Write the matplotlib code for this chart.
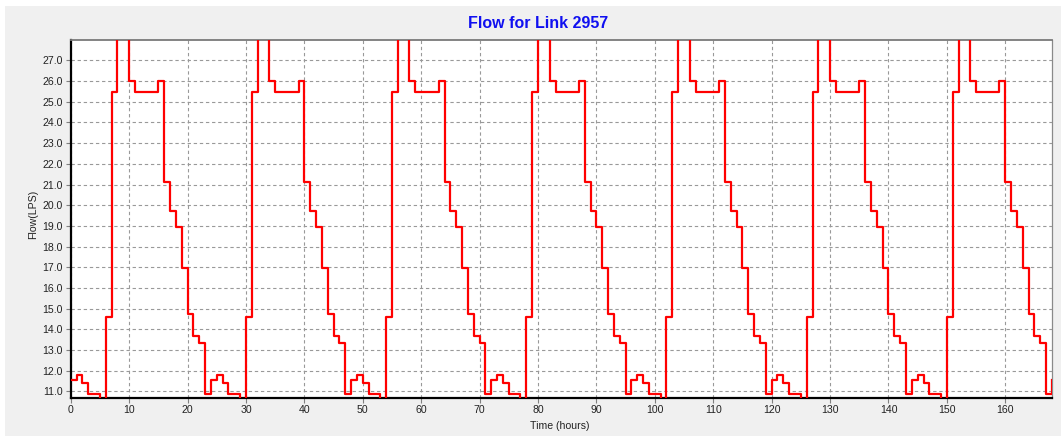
import numpy as np
import matplotlib
matplotlib.use("Agg")
import matplotlib.pyplot as plt
from matplotlib.patches import Rectangle
from matplotlib.ticker import FormatStrFormatter

# ---- data (hourly flow, LPS); values above 28 / below 10.7 are off-scale estimates
day1 = [11.55, 11.8, 11.4, 10.9, 10.9, 0.0, 14.6, 25.45, 30.0, 30.0, 26.0, 25.45,
        25.45, 25.45, 25.45, 26.0, 21.1, 19.7, 18.95, 16.95, 14.75, 13.7, 13.35, 10.9]
day2 = [11.55, 11.8, 11.4, 10.9, 10.9, 0.0, 14.6, 25.45, 30.0, 30.0, 26.0, 25.45,
        25.45, 25.45, 25.45, 26.0, 21.1, 19.7, 18.95, 16.95, 14.75, 13.7, 13.35, 10.9]
day3 = [11.55, 11.8, 11.4, 10.9, 10.9, 0.0, 14.6, 25.45, 30.0, 30.0, 26.0, 25.45,
        25.45, 25.45, 25.45, 26.0, 21.1, 19.7, 18.95, 16.95, 14.75, 13.7, 13.35, 10.9]
day4 = [11.55, 11.8, 11.4, 10.9, 10.9, 0.0, 14.6, 25.45, 30.0, 30.0, 26.0, 25.45,
        25.45, 25.45, 25.45, 26.0, 21.1, 19.7, 18.95, 16.95, 14.75, 13.7, 13.35, 10.9]
day5 = [11.55, 11.8, 11.4, 10.9, 10.9, 0.0, 14.6, 25.45, 30.0, 30.0, 26.0, 25.45,
        25.45, 25.45, 25.45, 26.0, 21.1, 19.7, 18.95, 16.95, 14.75, 13.7, 13.35, 10.9]
day6 = [11.55, 11.8, 11.4, 10.9, 10.9, 0.0, 14.6, 25.45, 30.0, 30.0, 26.0, 25.45,
        25.45, 25.45, 25.45, 26.0, 21.1, 19.7, 18.95, 16.95, 14.75, 13.7, 13.35, 10.9]
day7 = [11.55, 11.8, 11.4, 10.9, 10.9, 0.0, 14.6, 25.45, 30.0, 30.0, 26.0, 25.45,
        25.45, 25.45, 25.45, 26.0, 21.1, 19.7, 18.95, 16.95, 14.75, 13.7, 13.35, 10.9]
final_value = [11.55]  # value at t = 168 h

flow = day1 + day2 + day3 + day4 + day5 + day6 + day7 + final_value
hours = np.arange(len(flow))

x_ticks = list(range(0, 161, 10))
y_ticks = [11.0, 12.0, 13.0, 14.0, 15.0, 16.0, 17.0, 18.0, 19.0,
           20.0, 21.0, 22.0, 23.0, 24.0, 25.0, 26.0, 27.0]

plt.rcParams['font.family'] = ['Liberation Sans', 'DejaVu Sans']

W, H = 1061, 436
fig = plt.figure(figsize=(W / 100, H / 100), dpi=100)
fig.patch.set_facecolor('#f0f0f0')
# thin white margins on the top and left like the reference
fig.patches.append(Rectangle((0, 0), 5 / W, 1, transform=fig.transFigure,
                             facecolor='white', edgecolor='none', zorder=-10))
fig.patches.append(Rectangle((0, 1 - 6 / H), 1, 6 / H, transform=fig.transFigure,
                             facecolor='white', edgecolor='none', zorder=-10))

left, right = 70.7 / W, 1052.3 / W
top, bottom = 1 - 39.7 / H, 1 - 397.7 / H
ax = fig.add_axes([left, bottom, right - left, top - bottom])
ax.set_facecolor('white')

ax.step(hours, flow, where='post', color='#ff0000', lw=1.6, zorder=3)

ax.set_xlim(0, 168.05)
ax.set_ylim(10.7, 28.0)
ax.set_xticks(x_ticks)
ax.set_yticks(y_ticks)
ax.yaxis.set_major_formatter(FormatStrFormatter('%.1f'))

ax.grid(True, color='#999999', linestyle=(0, (3, 2.5)), linewidth=0.8)
ax.set_axisbelow(True)

ax.tick_params(axis='both', direction='out', length=3.5, width=0.8,
               color='#808080', labelsize=7.6, labelcolor='#222222', pad=2)

for side in ['left', 'bottom']:
    ax.spines[side].set_color('black')
    ax.spines[side].set_linewidth(1.6)
ax.spines['top'].set_color('#7a7a7a')
ax.spines['top'].set_linewidth(1.3)
ax.spines['right'].set_color('#8a8a8a')
ax.spines['right'].set_linewidth(0.9)

fig.text(33 / W, 1 - 214 / H, 'Flow(LPS)', rotation=90, ha='center', va='center',
         fontsize=7.6, color='#222222')
fig.text(560 / W, 1 - 425.5 / H, 'Time (hours)', ha='center', va='center',
         fontsize=7.6, color='#222222')
fig.text(538.5 / W, 1 - 24 / H, 'Flow for Link 2957', ha='center', va='center',
         fontsize=11.5, fontweight='bold', color='#1010f0')

fig.savefig('out.png', dpi=100, facecolor=fig.get_facecolor())
